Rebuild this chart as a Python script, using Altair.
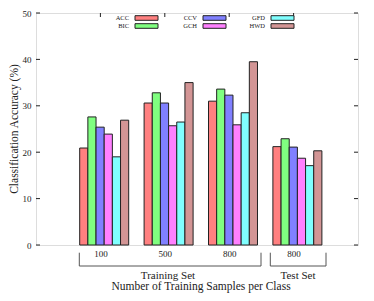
import altair as alt
import pandas as pd

# ---- data ----
methods = ["ACC", "BIC", "CCV", "GCH", "GFD", "HWD"]
colors = ["#ff8080", "#80ff80", "#8080ff", "#ff80ff", "#80ffff", "#d39595"]
group_labels = ["100", "500", "800", "800"]
acc = [20.9, 30.6, 31.0, 21.2]
bic = [27.6, 32.8, 33.6, 22.9]
ccv = [25.4, 30.6, 32.3, 21.1]
gch = [23.9, 25.7, 25.9, 18.7]
gfd = [19.0, 26.5, 28.5, 17.1]
hwd = [26.9, 35.0, 39.5, 20.3]
y_ticks = [0, 10, 20, 30, 40, 50]

series = [acc, bic, ccv, gch, gfd, hwd]

# ---- layout constants ----
PL, PT = 36, 13          # plot origin on the page
W, H = 322, 232
BW = 0.1268      # bar width in x units
SHIFT = 0.059    # gnuplot-like shift of bar cluster
FONT = "Liberation Serif"

rows = []
for i, (m, vals) in enumerate(zip(methods, series)):
    for g, v in enumerate(vals):
        x0 = (g + 1) - 3 * BW + i * BW + SHIFT
        rows.append({"method": m, "x0": x0, "x1": x0 + BW, "value": v, "order": i})
df = pd.DataFrame(rows)

xscale = alt.Scale(domain=[0, 5], nice=False, zero=False)
yscale = alt.Scale(domain=[0, 50], nice=False)
cscale = alt.Scale(domain=methods, range=colors)

label_expr = "[" + ",".join("'%s'" % s for s in group_labels) + "][datum.value-1]"

bars = alt.Chart(df).mark_rect(stroke="#222", strokeWidth=1).encode(
    x=alt.X("x0:Q", scale=xscale,
            axis=alt.Axis(values=[1, 2, 3, 4], labelExpr=label_expr, ticks=False,
                          domain=False, grid=False, title=None, labelFont=FONT,
                          labelFontSize=9, labelColor="#222", labelPadding=4)),
    x2="x1:Q",
    y=alt.Y("value:Q", scale=yscale,
            axis=alt.Axis(values=y_ticks, ticks=False, domain=False, grid=False,
                          title=None, labelFont=FONT, labelFontSize=9,
                          labelColor="#222", labelPadding=5)),
    y2=alt.datum(0),
    color=alt.Color("method:N", scale=cscale, legend=None),
)

ytick_df = pd.DataFrame({"v": y_ticks})
left_ticks = alt.Chart(ytick_df).mark_rule(color="#222", strokeWidth=1).encode(
    y=alt.Y("v:Q", scale=yscale), x=alt.value(0), x2=alt.value(4))
right_ticks = alt.Chart(ytick_df).mark_rule(color="#222", strokeWidth=1).encode(
    y=alt.Y("v:Q", scale=yscale), x=alt.value(W - 4), x2=alt.value(W))
xtick_df = pd.DataFrame({"g": [1, 2, 3, 4]})
top_ticks = alt.Chart(xtick_df).mark_rule(color="#222", strokeWidth=1).encode(
    x=alt.X("g:Q", scale=xscale), y=alt.value(0), y2=alt.value(4))

# ---- legend (labels left of swatches, filled column-wise) ----
leg_rows = []
for i, m in enumerate(methods):
    col, row = i // 2, i % 2
    sx = 99 + col * 68
    sy = 18 - PT + row * 8
    leg_rows.append({"method": m, "sx0": sx, "sx1": sx + 23, "sy0": sy - 2.3,
                     "sy1": sy + 2.3, "tx": sx - 6, "ty": sy})
leg = pd.DataFrame(leg_rows)
leg_sw = alt.Chart(leg).mark_rect(stroke="#222", strokeWidth=1).encode(
    x=alt.X("sx0:Q", scale=None), x2="sx1:Q",
    y=alt.Y("sy0:Q", scale=None), y2="sy1:Q",
    color=alt.Color("method:N", scale=cscale, legend=None))
leg_tx = alt.Chart(leg).mark_text(align="right", baseline="middle", font=FONT,
                                  fontSize=6.5, color="#222").encode(
    x=alt.X("tx:Q", scale=None), y=alt.Y("ty:Q", scale=None), text="method:N")

# ---- brackets and annotation texts ----
BY0, BY1 = 252.7 - PT, 266 - PT
seg = pd.DataFrame([
    {"a": 43.3, "b": 225, "c": BY1, "d": BY1},
    {"a": 43.3, "b": 43.3, "c": BY0, "d": BY1},
    {"a": 225, "b": 225, "c": BY0, "d": BY1},
    {"a": 234.3, "b": 290, "c": BY1, "d": BY1},
    {"a": 234.3, "b": 234.3, "c": BY0, "d": BY1},
    {"a": 290, "b": 290, "c": BY0, "d": BY1},
])
brackets = alt.Chart(seg).mark_rule(color="#555", strokeWidth=1).encode(
    x=alt.X("a:Q", scale=None), x2="b:Q", y=alt.Y("c:Q", scale=None), y2="d:Q")


def txt(s, x, y, size, angle=0):
    return alt.Chart(pd.DataFrame({"t": [s]})).mark_text(
        font=FONT, fontSize=size, color="#222", align="center",
        baseline="middle", angle=angle).encode(
        x=alt.value(x), y=alt.value(y), text="t:N")


t_train = txt("Training Set", 132, 276 - PT, 11)
t_test = txt("Test Set", 262, 276 - PT, 11)
t_x = txt("Number of Training Samples per Class", 165, 287.3 - PT, 11.5)
t_y = txt("Classification Accuracy (%)", 14.5 - PL, H / 2, 11.5, angle=270)

chart = alt.layer(
    bars, left_ticks, right_ticks, top_ticks, leg_sw, leg_tx, brackets,
    t_train, t_test, t_x, t_y
).properties(
    width=W, height=H,
    autosize=alt.AutoSizeParams(type="none"),
    padding={"left": PL - 8, "top": PT - 8, "right": 8, "bottom": 48},
).configure_view(stroke="#222", strokeWidth=1).configure(background="white")

chart.save("out.html", embed_options={"renderer": "svg", "actions": False})
